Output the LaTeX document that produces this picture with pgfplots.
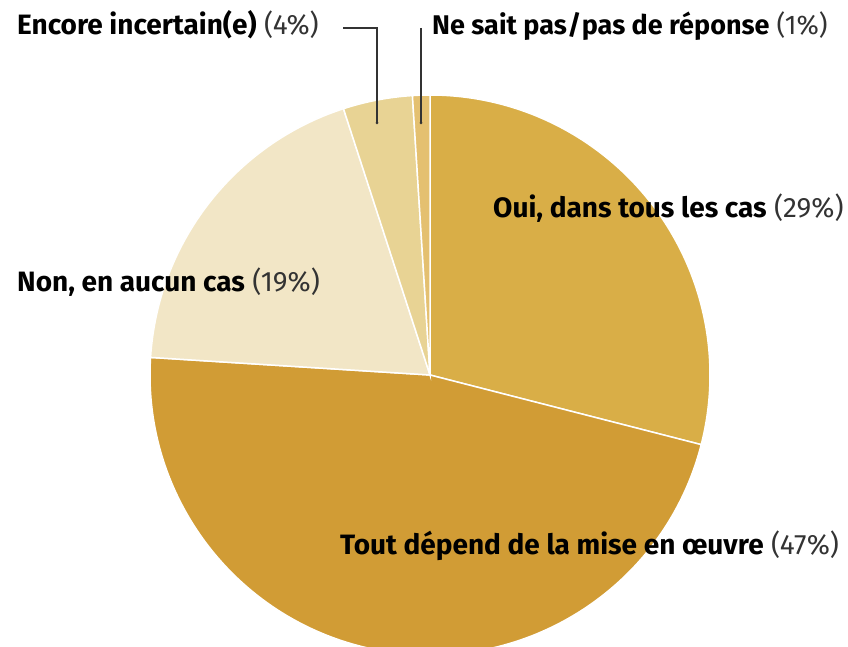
\documentclass[border=0pt]{standalone}
\usepackage{pgfplots}
\pgfplotsset{compat=1.18}
\usepackage{fontspec}
\setmainfont{Fira Sans}
\definecolor{cOui}{HTML}{D9AE47}
\definecolor{cTout}{HTML}{D19C35}
\definecolor{cNon}{HTML}{F2E6C6}
\definecolor{cEnc}{HTML}{E8D394}
\definecolor{cNsp}{HTML}{E4C070}
\definecolor{cPct}{HTML}{333333}
% data (percent)
\def\pOui{29}
\def\pTout{47}
\def\pNon{19}
\def\pEnc{4}
\def\pNsp{1}
\pgfmathsetmacro\aA{90}
\pgfmathsetmacro\aB{\aA-3.6*\pOui}
\pgfmathsetmacro\aC{\aB-3.6*\pTout}
\pgfmathsetmacro\aD{\aC-3.6*\pNon}
\pgfmathsetmacro\aE{\aD-3.6*\pEnc}
\pgfmathsetmacro\aF{\aE-3.6*\pNsp}
\newcommand\lab[2]{\textbf{#1} {\color{cPct}(#2\%)}}
\begin{document}
\begin{tikzpicture}
\begin{axis}[
  width=848pt, height=647pt, scale only axis,
  xmin=0, xmax=848, ymin=0, ymax=647,
  hide axis, clip=true,
]
\def\R{280pt}
\begin{scope}
\clip (axis cs:0,0) rectangle (axis cs:848,647);
\fill[cOui, draw=white, line width=1.5pt] (axis cs:430,272) -- ++(\aA:\R) arc[start angle=\aA, end angle=\aB, radius=\R] -- cycle;
\fill[cTout, draw=white, line width=1.5pt] (axis cs:430,272) -- ++(\aB:\R) arc[start angle=\aB, end angle=\aC, radius=\R] -- cycle;
\fill[cNon, draw=white, line width=1.5pt] (axis cs:430,272) -- ++(\aC:\R) arc[start angle=\aC, end angle=\aD, radius=\R] -- cycle;
\fill[cEnc, draw=white, line width=1.5pt] (axis cs:430,272) -- ++(\aD:\R) arc[start angle=\aD, end angle=\aE, radius=\R] -- cycle;
\fill[cNsp, draw=white, line width=1.5pt] (axis cs:430,272) -- ++(\aE:\R) arc[start angle=\aE, end angle=\aF, radius=\R] -- cycle;
\end{scope}
% leader lines
\draw[black!80, line width=1.2pt] (axis cs:343,619) -- (axis cs:377,619) -- (axis cs:377,524);
\fill[black!80] (axis cs:377,524) circle[radius=1.5pt];
\draw[black!80, line width=1.2pt] (axis cs:421,619) -- (axis cs:421,524);
\fill[black!80] (axis cs:421,524) circle[radius=1.5pt];
% labels
\begin{scope}[every node/.style={font=\fontsize{28}{33}\selectfont, inner sep=0pt, anchor=base west}]
\node at (axis cs:17,612) {\lab{Encore incertain(e)}{4}};
\node at (axis cs:432,612) {\fontsize{27}{32}\selectfont\lab{Ne sait pas\kern0.5pt/\kern0.5pt pas de réponse}{1}};
\node at (axis cs:17,355) {\lab{Non, en aucun cas}{19}};
\node at (axis cs:493,429) {\lab{Oui, dans tous les cas}{29}};
\node at (axis cs:340,92) {\lab{Tout dépend de la mise en œuvre}{47}};
\end{scope}
\end{axis}
\pgfresetboundingbox
\useasboundingbox (current axis.south west) rectangle (current axis.north east);
\end{tikzpicture}
\end{document}
